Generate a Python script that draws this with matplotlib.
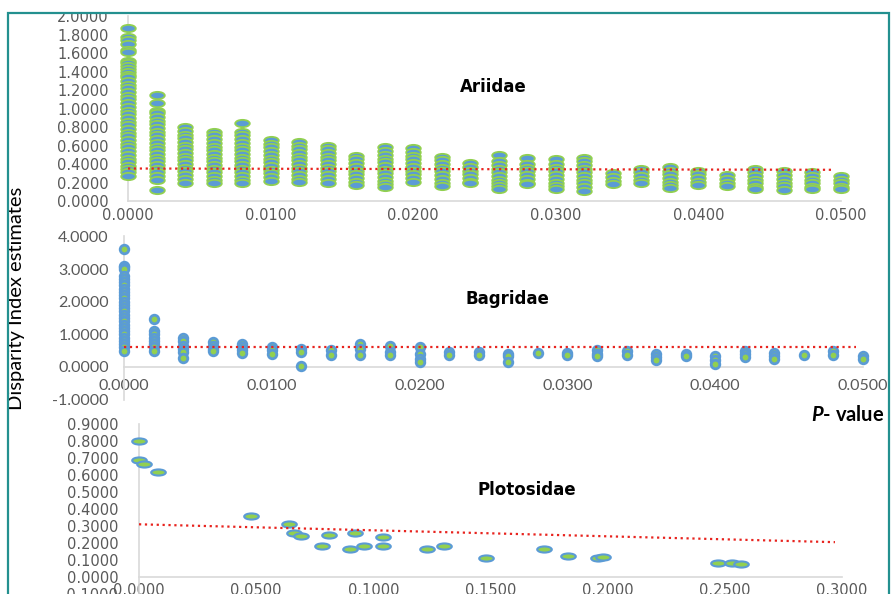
import numpy as np
import matplotlib.pyplot as plt
from matplotlib.path import Path
from matplotlib.transforms import Affine2D
from matplotlib.patches import Rectangle
from matplotlib.ticker import FormatStrFormatter, MultipleLocator

W, H = 891, 594

BLUE = '#5B9BD5'
GREEN = '#92D050'
AXIS = '#D9D9D9'
TICK = '#595959'
TREND = '#E8231E'

# Ariidae: one column of disparity index values per P-value step
ariidae_p = [0.000, 0.002, 0.004, 0.006, 0.008, 0.010, 0.012, 0.014, 0.016,
             0.018, 0.020, 0.022, 0.024, 0.026, 0.028, 0.030, 0.032, 0.034,
             0.036, 0.038, 0.040, 0.042, 0.044, 0.046, 0.048, 0.050]
ariidae_di = [
    [1.87, 1.78, 1.74, 1.70, 1.64, 1.61, 1.52, 1.49, 1.46, 1.43, 1.40, 1.37, 1.34, 1.30,
     1.26, 1.22, 1.18, 1.14, 1.10, 1.06, 1.02, 0.98, 0.94, 0.90, 0.86, 0.82, 0.78, 0.74,
     0.70, 0.66, 0.62, 0.58, 0.54, 0.50, 0.46, 0.42, 0.38, 0.35, 0.31, 0.27],
    [1.15, 1.06, 0.98, 0.95, 0.91, 0.87, 0.83, 0.79, 0.75, 0.71, 0.67, 0.63, 0.59, 0.55,
     0.51, 0.47, 0.43, 0.39, 0.35, 0.31, 0.27, 0.23, 0.12],
    [0.80, 0.76, 0.72, 0.68, 0.64, 0.60, 0.56, 0.52, 0.48, 0.44, 0.40, 0.36, 0.32, 0.28, 0.24, 0.20],
    [0.75, 0.71, 0.67, 0.63, 0.59, 0.55, 0.51, 0.47, 0.43, 0.39, 0.35, 0.31, 0.27, 0.23, 0.20],
    [0.85, 0.75, 0.71, 0.67, 0.63, 0.59, 0.55, 0.51, 0.47, 0.43, 0.39, 0.35, 0.31, 0.27, 0.23, 0.19],
    [0.66, 0.62, 0.58, 0.54, 0.50, 0.46, 0.42, 0.38, 0.34, 0.30, 0.26, 0.22],
    [0.64, 0.60, 0.56, 0.52, 0.48, 0.44, 0.40, 0.36, 0.32, 0.28, 0.24, 0.21],
    [0.60, 0.56, 0.52, 0.48, 0.44, 0.40, 0.36, 0.32, 0.28, 0.24, 0.20],
    [0.49, 0.45, 0.41, 0.37, 0.33, 0.29, 0.25, 0.21, 0.17],
    [0.58, 0.54, 0.50, 0.46, 0.42, 0.38, 0.34, 0.30, 0.26, 0.22, 0.18, 0.15],
    [0.57, 0.53, 0.49, 0.45, 0.41, 0.37, 0.33, 0.29, 0.25, 0.21],
    [0.48, 0.44, 0.40, 0.36, 0.32, 0.28, 0.24, 0.20, 0.16],
    [0.41, 0.37, 0.33, 0.29, 0.25, 0.21, 0.19],
    [0.50, 0.43, 0.39, 0.35, 0.31, 0.27, 0.23, 0.19, 0.16, 0.13],
    [0.47, 0.40, 0.36, 0.32, 0.28, 0.24, 0.20, 0.18],
    [0.46, 0.40, 0.36, 0.32, 0.28, 0.24, 0.20, 0.16, 0.13],
    [0.47, 0.43, 0.39, 0.35, 0.31, 0.27, 0.23, 0.19, 0.15, 0.11],
    [0.30, 0.26, 0.22, 0.18],
    [0.35, 0.31, 0.27, 0.23, 0.19],
    [0.37, 0.33, 0.29, 0.25, 0.21, 0.17, 0.14],
    [0.33, 0.29, 0.25, 0.21, 0.17],
    [0.28, 0.24, 0.20, 0.16],
    [0.35, 0.31, 0.27, 0.23, 0.19, 0.15, 0.13],
    [0.32, 0.28, 0.24, 0.20, 0.16, 0.12],
    [0.31, 0.27, 0.23, 0.19, 0.15, 0.13],
    [0.27, 0.23, 0.19, 0.15, 0.13],
]
ariidae_trend_p = [0.0, 0.0495]
ariidae_trend_di = [0.352, 0.338]

# Bagridae
bagridae_p = ariidae_p
bagridae_di = [
    [3.62, 3.10, 3.05, 3.00, 2.80, 2.70, 2.60, 2.50, 2.40, 2.30, 2.20, 2.10, 2.00, 1.90,
     1.80, 1.70, 1.60, 1.50, 1.40, 1.30, 1.20, 1.10, 1.00, 0.90, 0.80, 0.70, 0.60, 0.50],
    [1.47, 1.10, 1.00, 0.90, 0.80, 0.70, 0.60, 0.50],
    [0.88, 0.78, 0.65, 0.55, 0.45, 0.27],
    [0.75, 0.65, 0.55, 0.48],
    [0.70, 0.60, 0.52, 0.42],
    [0.62, 0.52, 0.40],
    [0.55, 0.45, 0.02],
    [0.52, 0.38],
    [0.70, 0.55, 0.35],
    [0.65, 0.45, 0.35],
    [0.60, 0.40, 0.25, 0.15],
    [0.45, 0.38],
    [0.45, 0.38],
    [0.40, 0.32, 0.15],
    [0.42],
    [0.42, 0.35],
    [0.52, 0.40, 0.33],
    [0.50, 0.38],
    [0.40, 0.30, 0.20],
    [0.40, 0.32],
    [0.32, 0.20, 0.10],
    [0.48, 0.40, 0.30],
    [0.43, 0.33, 0.25],
    [0.36],
    [0.48, 0.38],
    [0.32, 0.25],
]
bagridae_trend_p = [0.0, 0.0495]
bagridae_trend_di = [0.62, 0.62]

# Plotosidae
plotosidae_p = [0.000, 0.000, 0.002, 0.008, 0.048, 0.064, 0.066, 0.069, 0.078, 0.081,
                0.090, 0.092, 0.096, 0.104, 0.104, 0.123, 0.130, 0.148, 0.173, 0.183,
                0.196, 0.198, 0.247, 0.253, 0.257]
plotosidae_di = [0.80, 0.69, 0.665, 0.62, 0.36, 0.31, 0.26, 0.24, 0.18, 0.25,
                 0.165, 0.26, 0.18, 0.235, 0.18, 0.165, 0.18, 0.11, 0.165, 0.125,
                 0.11, 0.12, 0.085, 0.085, 0.075]
plotosidae_trend_p = [0.0, 0.297]
plotosidae_trend_di = [0.31, 0.205]

plt.rcParams['mathtext.fontset'] = 'custom'
plt.rcParams['mathtext.it'] = 'Lato:italic:bold'

fig = plt.figure(figsize=(W / 100, H / 100), dpi=100)
fig.patch.set_facecolor('white')

# flattened circles, the sheets were stretched sideways
ellipse_top = Path.unit_circle().transformed(Affine2D().scale(1.0, 0.5))
ellipse_low = Path.unit_circle().transformed(Affine2D().scale(1.0, 0.42))


def add_ax(left, right, top, bottom):
    return fig.add_axes([left / W, 1 - bottom / H, (right - left) / W, (bottom - top) / H])


def style_ax(ax, fontfamily, fontsize, xpad, ypad):
    for side in ['top', 'right']:
        ax.spines[side].set_visible(False)
    for side in ['left', 'bottom']:
        ax.spines[side].set_color(AXIS)
        ax.spines[side].set_linewidth(1.2)
    ax.spines['bottom'].set_position(('data', 0))
    ax.xaxis.set_major_formatter(FormatStrFormatter('%.4f'))
    ax.yaxis.set_major_formatter(FormatStrFormatter('%.4f'))
    ax.tick_params(axis='x', length=0, pad=xpad, labelsize=fontsize, labelcolor=TICK)
    ax.tick_params(axis='y', length=0, pad=ypad, labelsize=fontsize, labelcolor=TICK)
    for lab in ax.get_xticklabels() + ax.get_yticklabels():
        lab.set_fontfamily(fontfamily)
    ax.patch.set_alpha(0)


# Ariidae
ax1 = add_ax(128, 841, 16.4, 201)
for p, vals in zip(ariidae_p, ariidae_di):
    ax1.plot([p] * len(vals), vals, ls='none', marker=ellipse_top, ms=10.5,
             mfc=BLUE, mec=GREEN, mew=1.3, clip_on=False, zorder=3)
ax1.plot(ariidae_trend_p, ariidae_trend_di, ls=':', color=TREND, lw=1.6, zorder=4)
ax1.set_xlim(0, 0.05)
ax1.set_ylim(0, 2.0)
ax1.xaxis.set_major_locator(MultipleLocator(0.01))
ax1.yaxis.set_major_locator(MultipleLocator(0.2))
style_ax(ax1, 'DejaVu Sans', 10.5, 5, 14)

# Bagridae
ax2 = add_ax(124, 863, 236.5, 399.5)
for p, vals in zip(bagridae_p, bagridae_di):
    ax2.plot([p] * len(vals), vals, ls='none', marker='o', ms=6.2,
             mfc=GREEN, mec=BLUE, mew=2.0, clip_on=False, zorder=3)
ax2.plot(bagridae_trend_p, bagridae_trend_di, ls=':', color=TREND, lw=1.6, zorder=4)
ax2.set_xlim(0, 0.05)
ax2.set_ylim(-1, 4)
ax2.xaxis.set_major_locator(MultipleLocator(0.01))
ax2.yaxis.set_major_locator(MultipleLocator(1))
style_ax(ax2, 'Lato', 11.5, 9, 11)

# Plotosidae
ax3 = add_ax(139, 842, 424, 594)
ax3.plot(plotosidae_p, plotosidae_di, ls='none', marker=ellipse_low, ms=10.5,
         mfc=GREEN, mec=BLUE, mew=1.5, clip_on=False, zorder=3)
ax3.plot(plotosidae_trend_p, plotosidae_trend_di, ls=':', color=TREND, lw=1.6, zorder=4)
ax3.set_xlim(0, 0.3)
ax3.set_ylim(-0.1, 0.9)
ax3.xaxis.set_major_locator(MultipleLocator(0.05))
ax3.yaxis.set_major_locator(MultipleLocator(0.1))
style_ax(ax3, 'DejaVu Sans', 10.5, 4, 15)

# family names inside each panel
for name, x, y in [('Ariidae', 493, 87), ('Bagridae', 507, 299), ('Plotosidae', 527, 490)]:
    fig.text(x / W, 1 - y / H, name, ha='center', va='center', fontsize=12,
             fontweight='bold', fontfamily='DejaVu Sans', color='black')

fig.text(17 / W, 1 - 298 / H, 'Disparity Index estimates', rotation=90,
         ha='center', va='center', fontsize=14.5, fontfamily='Lato', color='black')
fig.text(811 / W, 1 - 415 / H, r'$\mathit{P}$- value', ha='left', va='center',
         fontsize=14.5, fontfamily='Lato', fontweight='bold', color='black')

# frame around the whole figure
fig.add_artist(Rectangle((0, 1 - 13 / H), 1, 13 / H, transform=fig.transFigure,
                         facecolor='white', edgecolor='none', zorder=19))
fig.add_artist(Rectangle((8 / W, -0.05), 881 / W, 1.05 - 13 / H, transform=fig.transFigure,
                         fill=False, edgecolor='#23908F', lw=1.6, zorder=20))

fig.savefig('out.png', dpi=100, facecolor='white')
